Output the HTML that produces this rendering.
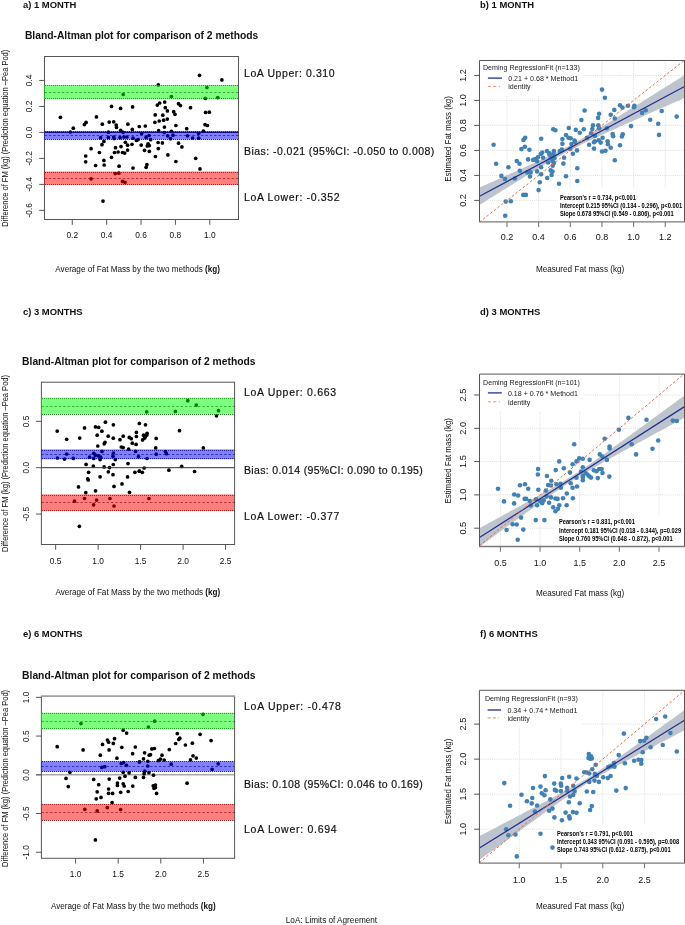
<!DOCTYPE html>
<html><head><meta charset="utf-8"><style>
html,body{margin:0;padding:0;background:#fff;overflow:hidden;}
svg{display:block;font-family:"Liberation Sans", sans-serif;will-change:transform;}
</style></head><body>
<svg width="685" height="925" viewBox="0 0 685 925">
<rect width="685" height="925" fill="#fff"/>
<text x="22.90" y="8.20" font-size="9.45" text-anchor="start" fill="#111" font-weight="bold">a) 1 MONTH</text>
<text x="24.90" y="39.20" font-size="10.3" text-anchor="start" fill="#111" font-weight="bold">Bland-Altman plot for comparison of 2 methods</text>
<circle cx="123.20" cy="94.40" r="1.85" fill="#000"/>
<circle cx="111.50" cy="106.40" r="1.85" fill="#000"/>
<circle cx="120.60" cy="108.40" r="1.85" fill="#000"/>
<circle cx="132.60" cy="106.90" r="1.85" fill="#000"/>
<circle cx="60.40" cy="117.30" r="1.85" fill="#000"/>
<circle cx="96.40" cy="116.90" r="1.85" fill="#000"/>
<circle cx="86.10" cy="122.40" r="1.85" fill="#000"/>
<circle cx="84.40" cy="124.60" r="1.85" fill="#000"/>
<circle cx="73.30" cy="128.20" r="1.85" fill="#000"/>
<circle cx="102.30" cy="124.20" r="1.85" fill="#000"/>
<circle cx="109.20" cy="122.10" r="1.85" fill="#000"/>
<circle cx="113.70" cy="121.80" r="1.85" fill="#000"/>
<circle cx="116.20" cy="125.00" r="1.85" fill="#000"/>
<circle cx="116.50" cy="127.40" r="1.85" fill="#000"/>
<circle cx="127.90" cy="124.20" r="1.85" fill="#000"/>
<circle cx="132.30" cy="129.40" r="1.85" fill="#000"/>
<circle cx="139.30" cy="126.50" r="1.85" fill="#000"/>
<circle cx="70.40" cy="132.00" r="1.85" fill="#000"/>
<circle cx="108.40" cy="132.20" r="1.85" fill="#000"/>
<circle cx="120.70" cy="130.30" r="1.85" fill="#000"/>
<circle cx="123.20" cy="132.30" r="1.85" fill="#000"/>
<circle cx="100.60" cy="137.70" r="1.85" fill="#000"/>
<circle cx="108.30" cy="137.40" r="1.85" fill="#000"/>
<circle cx="113.70" cy="137.00" r="1.85" fill="#000"/>
<circle cx="114.20" cy="138.60" r="1.85" fill="#000"/>
<circle cx="120.00" cy="137.70" r="1.85" fill="#000"/>
<circle cx="123.90" cy="137.00" r="1.85" fill="#000"/>
<circle cx="126.90" cy="137.00" r="1.85" fill="#000"/>
<circle cx="133.00" cy="138.20" r="1.85" fill="#000"/>
<circle cx="136.40" cy="140.40" r="1.85" fill="#000"/>
<circle cx="138.10" cy="139.60" r="1.85" fill="#000"/>
<circle cx="103.90" cy="141.40" r="1.85" fill="#000"/>
<circle cx="102.00" cy="144.70" r="1.85" fill="#000"/>
<circle cx="125.40" cy="142.30" r="1.85" fill="#000"/>
<circle cx="127.60" cy="145.20" r="1.85" fill="#000"/>
<circle cx="132.00" cy="144.30" r="1.85" fill="#000"/>
<circle cx="91.10" cy="148.70" r="1.85" fill="#000"/>
<circle cx="99.40" cy="152.50" r="1.85" fill="#000"/>
<circle cx="115.50" cy="147.70" r="1.85" fill="#000"/>
<circle cx="121.00" cy="146.60" r="1.85" fill="#000"/>
<circle cx="114.50" cy="152.50" r="1.85" fill="#000"/>
<circle cx="118.10" cy="152.00" r="1.85" fill="#000"/>
<circle cx="122.50" cy="152.50" r="1.85" fill="#000"/>
<circle cx="124.70" cy="153.10" r="1.85" fill="#000"/>
<circle cx="127.60" cy="150.10" r="1.85" fill="#000"/>
<circle cx="85.70" cy="156.00" r="1.85" fill="#000"/>
<circle cx="85.70" cy="161.80" r="1.85" fill="#000"/>
<circle cx="103.90" cy="160.40" r="1.85" fill="#000"/>
<circle cx="111.50" cy="157.30" r="1.85" fill="#000"/>
<circle cx="95.60" cy="165.50" r="1.85" fill="#000"/>
<circle cx="104.20" cy="165.00" r="1.85" fill="#000"/>
<circle cx="119.10" cy="166.20" r="1.85" fill="#000"/>
<circle cx="133.00" cy="168.00" r="1.85" fill="#000"/>
<circle cx="115.20" cy="173.60" r="1.85" fill="#000"/>
<circle cx="118.80" cy="173.20" r="1.85" fill="#000"/>
<circle cx="91.10" cy="178.80" r="1.85" fill="#000"/>
<circle cx="122.50" cy="181.40" r="1.85" fill="#000"/>
<circle cx="125.00" cy="182.30" r="1.85" fill="#000"/>
<circle cx="103.00" cy="201.10" r="1.85" fill="#000"/>
<circle cx="199.50" cy="75.30" r="1.85" fill="#000"/>
<circle cx="221.90" cy="79.90" r="1.85" fill="#000"/>
<circle cx="158.30" cy="84.90" r="1.85" fill="#000"/>
<circle cx="206.90" cy="87.50" r="1.85" fill="#000"/>
<circle cx="171.40" cy="96.60" r="1.85" fill="#000"/>
<circle cx="205.30" cy="98.40" r="1.85" fill="#000"/>
<circle cx="217.70" cy="97.60" r="1.85" fill="#000"/>
<circle cx="164.70" cy="102.10" r="1.85" fill="#000"/>
<circle cx="159.70" cy="103.00" r="1.85" fill="#000"/>
<circle cx="157.30" cy="105.10" r="1.85" fill="#000"/>
<circle cx="165.30" cy="107.70" r="1.85" fill="#000"/>
<circle cx="167.40" cy="110.90" r="1.85" fill="#000"/>
<circle cx="178.50" cy="103.70" r="1.85" fill="#000"/>
<circle cx="180.40" cy="105.60" r="1.85" fill="#000"/>
<circle cx="190.50" cy="107.70" r="1.85" fill="#000"/>
<circle cx="173.70" cy="111.70" r="1.85" fill="#000"/>
<circle cx="175.00" cy="114.30" r="1.85" fill="#000"/>
<circle cx="155.20" cy="114.90" r="1.85" fill="#000"/>
<circle cx="162.80" cy="115.20" r="1.85" fill="#000"/>
<circle cx="205.60" cy="112.40" r="1.85" fill="#000"/>
<circle cx="209.30" cy="112.20" r="1.85" fill="#000"/>
<circle cx="154.90" cy="122.30" r="1.85" fill="#000"/>
<circle cx="159.20" cy="121.00" r="1.85" fill="#000"/>
<circle cx="163.60" cy="120.20" r="1.85" fill="#000"/>
<circle cx="167.30" cy="119.10" r="1.85" fill="#000"/>
<circle cx="145.30" cy="126.00" r="1.85" fill="#000"/>
<circle cx="164.40" cy="127.10" r="1.85" fill="#000"/>
<circle cx="175.90" cy="125.50" r="1.85" fill="#000"/>
<circle cx="205.00" cy="124.70" r="1.85" fill="#000"/>
<circle cx="207.40" cy="125.50" r="1.85" fill="#000"/>
<circle cx="186.70" cy="128.70" r="1.85" fill="#000"/>
<circle cx="158.60" cy="130.70" r="1.85" fill="#000"/>
<circle cx="164.20" cy="132.60" r="1.85" fill="#000"/>
<circle cx="171.40" cy="131.30" r="1.85" fill="#000"/>
<circle cx="203.40" cy="131.00" r="1.85" fill="#000"/>
<circle cx="141.60" cy="133.60" r="1.85" fill="#000"/>
<circle cx="149.00" cy="135.50" r="1.85" fill="#000"/>
<circle cx="146.10" cy="137.40" r="1.85" fill="#000"/>
<circle cx="150.60" cy="139.70" r="1.85" fill="#000"/>
<circle cx="167.70" cy="135.80" r="1.85" fill="#000"/>
<circle cx="173.00" cy="135.20" r="1.85" fill="#000"/>
<circle cx="170.50" cy="138.70" r="1.85" fill="#000"/>
<circle cx="187.50" cy="135.80" r="1.85" fill="#000"/>
<circle cx="192.60" cy="138.00" r="1.85" fill="#000"/>
<circle cx="198.70" cy="133.60" r="1.85" fill="#000"/>
<circle cx="198.70" cy="138.20" r="1.85" fill="#000"/>
<circle cx="158.10" cy="142.50" r="1.85" fill="#000"/>
<circle cx="162.40" cy="142.90" r="1.85" fill="#000"/>
<circle cx="178.50" cy="143.20" r="1.85" fill="#000"/>
<circle cx="181.90" cy="146.90" r="1.85" fill="#000"/>
<circle cx="141.20" cy="145.10" r="1.85" fill="#000"/>
<circle cx="148.10" cy="143.80" r="1.85" fill="#000"/>
<circle cx="149.30" cy="145.60" r="1.85" fill="#000"/>
<circle cx="147.30" cy="145.90" r="1.85" fill="#000"/>
<circle cx="144.50" cy="150.30" r="1.85" fill="#000"/>
<circle cx="149.30" cy="151.40" r="1.85" fill="#000"/>
<circle cx="158.30" cy="148.60" r="1.85" fill="#000"/>
<circle cx="155.40" cy="156.50" r="1.85" fill="#000"/>
<circle cx="167.90" cy="154.90" r="1.85" fill="#000"/>
<circle cx="175.90" cy="161.50" r="1.85" fill="#000"/>
<circle cx="195.70" cy="158.30" r="1.85" fill="#000"/>
<circle cx="146.90" cy="164.70" r="1.85" fill="#000"/>
<circle cx="146.10" cy="167.30" r="1.85" fill="#000"/>
<circle cx="200.00" cy="168.90" r="1.85" fill="#000"/>
<rect x="44.50" y="56.50" width="194.00" height="163.00" fill="none" stroke="#555" stroke-width="1"/>
<line x1="44.50" y1="92.50" x2="238.50" y2="92.50" stroke="#000" stroke-width="1" stroke-dasharray="2.4,1.95" stroke-opacity="0.6"/>
<line x1="45.00" y1="85.50" x2="238.50" y2="85.50" stroke="#000" stroke-width="1" stroke-dasharray="1,1" stroke-opacity="0.75"/>
<line x1="45.00" y1="98.50" x2="238.50" y2="98.50" stroke="#000" stroke-width="1" stroke-dasharray="1,1" stroke-opacity="0.75"/>
<line x1="44.50" y1="135.50" x2="238.50" y2="135.50" stroke="#000" stroke-width="1" stroke-dasharray="2.4,1.95" stroke-opacity="0.6"/>
<line x1="45.00" y1="131.50" x2="238.50" y2="131.50" stroke="#000" stroke-width="1" stroke-dasharray="1,1" stroke-opacity="0.75"/>
<line x1="45.00" y1="139.50" x2="238.50" y2="139.50" stroke="#000" stroke-width="1" stroke-dasharray="1,1" stroke-opacity="0.75"/>
<line x1="44.50" y1="178.50" x2="238.50" y2="178.50" stroke="#000" stroke-width="1" stroke-dasharray="2.4,1.95" stroke-opacity="0.6"/>
<line x1="45.00" y1="172.50" x2="238.50" y2="172.50" stroke="#000" stroke-width="1" stroke-dasharray="1,1" stroke-opacity="0.75"/>
<line x1="45.00" y1="184.50" x2="238.50" y2="184.50" stroke="#000" stroke-width="1" stroke-dasharray="1,1" stroke-opacity="0.75"/>
<line x1="44.50" y1="132.40" x2="238.50" y2="132.40" stroke="#000" stroke-width="1"/>
<rect x="44.00" y="84.90" width="194.00" height="14.20" fill="#00ff00" fill-opacity="0.5"/>
<rect x="44.00" y="131.00" width="194.00" height="8.60" fill="#0000ff" fill-opacity="0.5"/>
<rect x="44.00" y="171.50" width="194.00" height="13.50" fill="#ff0000" fill-opacity="0.5"/>
<line x1="39.20" y1="80.44" x2="44.50" y2="80.44" stroke="#555" stroke-width="1"/>
<text x="32.30" y="80.44" font-size="8.4" text-anchor="middle" fill="#111" transform="rotate(-90 32.30 80.44)">0.4</text>
<line x1="39.20" y1="106.42" x2="44.50" y2="106.42" stroke="#555" stroke-width="1"/>
<text x="32.30" y="106.42" font-size="8.4" text-anchor="middle" fill="#111" transform="rotate(-90 32.30 106.42)">0.2</text>
<line x1="39.20" y1="132.40" x2="44.50" y2="132.40" stroke="#555" stroke-width="1"/>
<text x="32.30" y="132.40" font-size="8.4" text-anchor="middle" fill="#111" transform="rotate(-90 32.30 132.40)">0.0</text>
<line x1="39.20" y1="158.38" x2="44.50" y2="158.38" stroke="#555" stroke-width="1"/>
<text x="32.30" y="158.38" font-size="8.4" text-anchor="middle" fill="#111" transform="rotate(-90 32.30 158.38)">-0.2</text>
<line x1="39.20" y1="184.36" x2="44.50" y2="184.36" stroke="#555" stroke-width="1"/>
<text x="32.30" y="184.36" font-size="8.4" text-anchor="middle" fill="#111" transform="rotate(-90 32.30 184.36)">-0.4</text>
<line x1="39.20" y1="210.34" x2="44.50" y2="210.34" stroke="#555" stroke-width="1"/>
<text x="32.30" y="210.34" font-size="8.4" text-anchor="middle" fill="#111" transform="rotate(-90 32.30 210.34)">-0.6</text>
<line x1="72.28" y1="219.50" x2="72.28" y2="224.80" stroke="#555" stroke-width="1"/>
<text x="72.28" y="238.30" font-size="8.4" text-anchor="middle" fill="#111">0.2</text>
<line x1="106.66" y1="219.50" x2="106.66" y2="224.80" stroke="#555" stroke-width="1"/>
<text x="106.66" y="238.30" font-size="8.4" text-anchor="middle" fill="#111">0.4</text>
<line x1="141.04" y1="219.50" x2="141.04" y2="224.80" stroke="#555" stroke-width="1"/>
<text x="141.04" y="238.30" font-size="8.4" text-anchor="middle" fill="#111">0.6</text>
<line x1="175.42" y1="219.50" x2="175.42" y2="224.80" stroke="#555" stroke-width="1"/>
<text x="175.42" y="238.30" font-size="8.4" text-anchor="middle" fill="#111">0.8</text>
<line x1="209.80" y1="219.50" x2="209.80" y2="224.80" stroke="#555" stroke-width="1"/>
<text x="209.80" y="238.30" font-size="8.4" text-anchor="middle" fill="#111">1.0</text>
<text x="55.30" y="272.00" font-size="8.15" fill="#111">Average of Fat Mass by the two methods <tspan font-weight="bold">(kg)</tspan></text>
<text x="8.00" y="138.20" font-size="8.2" text-anchor="middle" fill="#111" transform="rotate(-90 8.00 138.20)" textLength="177" lengthAdjust="spacingAndGlyphs">Difference of FM (kg) (Prediction equation –Pea Pod)</text>
<text x="244.00" y="76.90" font-size="10.5" text-anchor="start" fill="#111" textLength="90.6" lengthAdjust="spacing" stroke="#111" stroke-width="0.18">LoA Upper: 0.310</text>
<text x="244.00" y="155.20" font-size="10.5" text-anchor="start" fill="#111" textLength="190.3" lengthAdjust="spacing" stroke="#111" stroke-width="0.18">Bias: -0.021 (95%CI: -0.050 to 0.008)</text>
<text x="244.00" y="200.50" font-size="10.5" text-anchor="start" fill="#111" textLength="95.6" lengthAdjust="spacing" stroke="#111" stroke-width="0.18">LoA Lower: -0.352</text>
<text x="22.90" y="314.90" font-size="9.45" text-anchor="start" fill="#111" font-weight="bold">c) 3 MONTHS</text>
<text x="22.10" y="365.00" font-size="10.3" text-anchor="start" fill="#111" font-weight="bold">Bland-Altman plot for comparison of 2 methods</text>
<circle cx="57.20" cy="431.10" r="1.85" fill="#000"/>
<circle cx="66.70" cy="439.30" r="1.85" fill="#000"/>
<circle cx="79.70" cy="438.10" r="1.85" fill="#000"/>
<circle cx="84.50" cy="427.90" r="1.85" fill="#000"/>
<circle cx="95.50" cy="426.90" r="1.85" fill="#000"/>
<circle cx="98.70" cy="427.40" r="1.85" fill="#000"/>
<circle cx="105.40" cy="422.20" r="1.85" fill="#000"/>
<circle cx="113.40" cy="424.80" r="1.85" fill="#000"/>
<circle cx="101.90" cy="431.20" r="1.85" fill="#000"/>
<circle cx="97.20" cy="435.20" r="1.85" fill="#000"/>
<circle cx="108.20" cy="436.20" r="1.85" fill="#000"/>
<circle cx="113.30" cy="438.20" r="1.85" fill="#000"/>
<circle cx="104.20" cy="443.80" r="1.85" fill="#000"/>
<circle cx="105.00" cy="442.30" r="1.85" fill="#000"/>
<circle cx="97.80" cy="446.00" r="1.85" fill="#000"/>
<circle cx="120.00" cy="439.70" r="1.85" fill="#000"/>
<circle cx="123.20" cy="436.20" r="1.85" fill="#000"/>
<circle cx="129.30" cy="437.40" r="1.85" fill="#000"/>
<circle cx="131.20" cy="438.70" r="1.85" fill="#000"/>
<circle cx="136.40" cy="432.40" r="1.85" fill="#000"/>
<circle cx="136.40" cy="436.50" r="1.85" fill="#000"/>
<circle cx="132.30" cy="443.20" r="1.85" fill="#000"/>
<circle cx="136.10" cy="444.40" r="1.85" fill="#000"/>
<circle cx="139.30" cy="423.40" r="1.85" fill="#000"/>
<circle cx="121.30" cy="447.00" r="1.85" fill="#000"/>
<circle cx="123.20" cy="447.60" r="1.85" fill="#000"/>
<circle cx="128.60" cy="449.20" r="1.85" fill="#000"/>
<circle cx="57.50" cy="458.00" r="1.85" fill="#000"/>
<circle cx="66.70" cy="454.00" r="1.85" fill="#000"/>
<circle cx="64.50" cy="459.10" r="1.85" fill="#000"/>
<circle cx="73.30" cy="458.40" r="1.85" fill="#000"/>
<circle cx="89.60" cy="457.20" r="1.85" fill="#000"/>
<circle cx="93.70" cy="453.30" r="1.85" fill="#000"/>
<circle cx="95.50" cy="455.20" r="1.85" fill="#000"/>
<circle cx="93.70" cy="458.40" r="1.85" fill="#000"/>
<circle cx="98.40" cy="455.80" r="1.85" fill="#000"/>
<circle cx="100.60" cy="457.20" r="1.85" fill="#000"/>
<circle cx="100.10" cy="459.60" r="1.85" fill="#000"/>
<circle cx="102.00" cy="451.40" r="1.85" fill="#000"/>
<circle cx="113.40" cy="453.00" r="1.85" fill="#000"/>
<circle cx="113.00" cy="456.20" r="1.85" fill="#000"/>
<circle cx="115.30" cy="459.60" r="1.85" fill="#000"/>
<circle cx="135.60" cy="451.40" r="1.85" fill="#000"/>
<circle cx="138.50" cy="456.60" r="1.85" fill="#000"/>
<circle cx="86.10" cy="464.40" r="1.85" fill="#000"/>
<circle cx="93.30" cy="466.10" r="1.85" fill="#000"/>
<circle cx="104.10" cy="466.90" r="1.85" fill="#000"/>
<circle cx="109.50" cy="467.60" r="1.85" fill="#000"/>
<circle cx="113.30" cy="464.50" r="1.85" fill="#000"/>
<circle cx="128.00" cy="463.60" r="1.85" fill="#000"/>
<circle cx="88.60" cy="472.30" r="1.85" fill="#000"/>
<circle cx="87.70" cy="478.80" r="1.85" fill="#000"/>
<circle cx="88.20" cy="480.00" r="1.85" fill="#000"/>
<circle cx="100.10" cy="476.80" r="1.85" fill="#000"/>
<circle cx="108.30" cy="471.80" r="1.85" fill="#000"/>
<circle cx="113.00" cy="474.70" r="1.85" fill="#000"/>
<circle cx="127.60" cy="476.90" r="1.85" fill="#000"/>
<circle cx="134.90" cy="472.30" r="1.85" fill="#000"/>
<circle cx="139.30" cy="471.20" r="1.85" fill="#000"/>
<circle cx="78.50" cy="486.90" r="1.85" fill="#000"/>
<circle cx="85.80" cy="492.70" r="1.85" fill="#000"/>
<circle cx="95.60" cy="490.80" r="1.85" fill="#000"/>
<circle cx="114.00" cy="486.40" r="1.85" fill="#000"/>
<circle cx="122.00" cy="483.90" r="1.85" fill="#000"/>
<circle cx="129.50" cy="492.30" r="1.85" fill="#000"/>
<circle cx="74.50" cy="501.20" r="1.85" fill="#000"/>
<circle cx="84.50" cy="498.50" r="1.85" fill="#000"/>
<circle cx="93.60" cy="504.80" r="1.85" fill="#000"/>
<circle cx="96.60" cy="500.10" r="1.85" fill="#000"/>
<circle cx="109.90" cy="498.50" r="1.85" fill="#000"/>
<circle cx="114.00" cy="506.00" r="1.85" fill="#000"/>
<circle cx="79.40" cy="526.30" r="1.85" fill="#000"/>
<circle cx="146.70" cy="411.80" r="1.85" fill="#000"/>
<circle cx="175.40" cy="411.40" r="1.85" fill="#000"/>
<circle cx="187.80" cy="400.70" r="1.85" fill="#000"/>
<circle cx="196.30" cy="405.10" r="1.85" fill="#000"/>
<circle cx="218.50" cy="410.70" r="1.85" fill="#000"/>
<circle cx="216.50" cy="415.80" r="1.85" fill="#000"/>
<circle cx="145.50" cy="424.80" r="1.85" fill="#000"/>
<circle cx="179.50" cy="430.70" r="1.85" fill="#000"/>
<circle cx="143.50" cy="435.20" r="1.85" fill="#000"/>
<circle cx="145.20" cy="436.90" r="1.85" fill="#000"/>
<circle cx="147.10" cy="433.30" r="1.85" fill="#000"/>
<circle cx="146.70" cy="435.20" r="1.85" fill="#000"/>
<circle cx="142.60" cy="439.90" r="1.85" fill="#000"/>
<circle cx="144.60" cy="438.10" r="1.85" fill="#000"/>
<circle cx="156.20" cy="438.40" r="1.85" fill="#000"/>
<circle cx="155.70" cy="447.90" r="1.85" fill="#000"/>
<circle cx="203.30" cy="447.90" r="1.85" fill="#000"/>
<circle cx="147.00" cy="458.50" r="1.85" fill="#000"/>
<circle cx="156.20" cy="454.20" r="1.85" fill="#000"/>
<circle cx="165.40" cy="451.50" r="1.85" fill="#000"/>
<circle cx="166.40" cy="453.70" r="1.85" fill="#000"/>
<circle cx="144.10" cy="468.00" r="1.85" fill="#000"/>
<circle cx="139.40" cy="471.20" r="1.85" fill="#000"/>
<circle cx="142.30" cy="472.30" r="1.85" fill="#000"/>
<circle cx="168.90" cy="470.20" r="1.85" fill="#000"/>
<circle cx="181.70" cy="466.40" r="1.85" fill="#000"/>
<circle cx="194.60" cy="471.50" r="1.85" fill="#000"/>
<circle cx="148.90" cy="498.50" r="1.85" fill="#000"/>
<rect x="41.40" y="382.20" width="193.20" height="162.30" fill="none" stroke="#555" stroke-width="1"/>
<line x1="41.40" y1="406.50" x2="234.60" y2="406.50" stroke="#000" stroke-width="1" stroke-dasharray="2.4,1.95" stroke-opacity="0.6"/>
<line x1="42.00" y1="398.50" x2="234.60" y2="398.50" stroke="#000" stroke-width="1" stroke-dasharray="1,1" stroke-opacity="0.75"/>
<line x1="42.00" y1="414.50" x2="234.60" y2="414.50" stroke="#000" stroke-width="1" stroke-dasharray="1,1" stroke-opacity="0.75"/>
<line x1="41.40" y1="454.50" x2="234.60" y2="454.50" stroke="#000" stroke-width="1" stroke-dasharray="2.4,1.95" stroke-opacity="0.6"/>
<line x1="42.00" y1="450.50" x2="234.60" y2="450.50" stroke="#000" stroke-width="1" stroke-dasharray="1,1" stroke-opacity="0.75"/>
<line x1="42.00" y1="458.50" x2="234.60" y2="458.50" stroke="#000" stroke-width="1" stroke-dasharray="1,1" stroke-opacity="0.75"/>
<line x1="41.40" y1="502.50" x2="234.60" y2="502.50" stroke="#000" stroke-width="1" stroke-dasharray="2.4,1.95" stroke-opacity="0.6"/>
<line x1="42.00" y1="495.50" x2="234.60" y2="495.50" stroke="#000" stroke-width="1" stroke-dasharray="1,1" stroke-opacity="0.75"/>
<line x1="42.00" y1="510.50" x2="234.60" y2="510.50" stroke="#000" stroke-width="1" stroke-dasharray="1,1" stroke-opacity="0.75"/>
<line x1="41.40" y1="467.70" x2="234.60" y2="467.70" stroke="#333" stroke-width="1"/>
<rect x="40.90" y="397.70" width="193.20" height="16.90" fill="#00ff00" fill-opacity="0.5"/>
<rect x="40.90" y="449.40" width="193.20" height="9.90" fill="#0000ff" fill-opacity="0.5"/>
<rect x="40.90" y="494.40" width="193.20" height="16.70" fill="#ff0000" fill-opacity="0.5"/>
<line x1="36.10" y1="421.35" x2="41.40" y2="421.35" stroke="#555" stroke-width="1"/>
<text x="29.30" y="421.35" font-size="8.4" text-anchor="middle" fill="#111" transform="rotate(-90 29.30 421.35)">0.5</text>
<line x1="36.10" y1="467.70" x2="41.40" y2="467.70" stroke="#555" stroke-width="1"/>
<text x="29.30" y="467.70" font-size="8.4" text-anchor="middle" fill="#111" transform="rotate(-90 29.30 467.70)">0.0</text>
<line x1="36.10" y1="514.05" x2="41.40" y2="514.05" stroke="#555" stroke-width="1"/>
<text x="29.30" y="514.05" font-size="8.4" text-anchor="middle" fill="#111" transform="rotate(-90 29.30 514.05)">-0.5</text>
<line x1="55.67" y1="544.50" x2="55.67" y2="549.80" stroke="#555" stroke-width="1"/>
<text x="55.67" y="564.00" font-size="8.4" text-anchor="middle" fill="#111">0.5</text>
<line x1="98.15" y1="544.50" x2="98.15" y2="549.80" stroke="#555" stroke-width="1"/>
<text x="98.15" y="564.00" font-size="8.4" text-anchor="middle" fill="#111">1.0</text>
<line x1="140.62" y1="544.50" x2="140.62" y2="549.80" stroke="#555" stroke-width="1"/>
<text x="140.62" y="564.00" font-size="8.4" text-anchor="middle" fill="#111">1.5</text>
<line x1="183.10" y1="544.50" x2="183.10" y2="549.80" stroke="#555" stroke-width="1"/>
<text x="183.10" y="564.00" font-size="8.4" text-anchor="middle" fill="#111">2.0</text>
<line x1="225.57" y1="544.50" x2="225.57" y2="549.80" stroke="#555" stroke-width="1"/>
<text x="225.57" y="564.00" font-size="8.4" text-anchor="middle" fill="#111">2.5</text>
<text x="55.50" y="595.20" font-size="8.15" fill="#111">Average of Fat Mass by the two methods <tspan font-weight="bold">(kg)</tspan></text>
<text x="8.00" y="463.50" font-size="8.2" text-anchor="middle" fill="#111" transform="rotate(-90 8.00 463.50)" textLength="177" lengthAdjust="spacingAndGlyphs">Difference of FM (kg) (Prediction equation –Pea Pod)</text>
<text x="244.00" y="396.30" font-size="10.5" text-anchor="start" fill="#111" textLength="92.1" lengthAdjust="spacing" stroke="#111" stroke-width="0.18">LoA Upper: 0.663</text>
<text x="244.00" y="474.40" font-size="10.5" text-anchor="start" fill="#111" textLength="178.8" lengthAdjust="spacing" stroke="#111" stroke-width="0.18">Bias: 0.014 (95%CI: 0.090 to 0.195)</text>
<text x="244.00" y="520.00" font-size="10.5" text-anchor="start" fill="#111" textLength="95.3" lengthAdjust="spacing" stroke="#111" stroke-width="0.18">LoA Lower: -0.377</text>
<text x="22.90" y="637.00" font-size="9.45" text-anchor="start" fill="#111" font-weight="bold">e) 6 MONTHS</text>
<text x="22.10" y="678.90" font-size="10.3" text-anchor="start" fill="#111" font-weight="bold">Bland-Altman plot for comparison of 2 methods</text>
<line x1="36.00" y1="774.80" x2="234.60" y2="774.80" stroke="#aaa" stroke-width="1.4"/>
<circle cx="81.00" cy="723.60" r="1.85" fill="#000"/>
<circle cx="123.20" cy="730.20" r="1.85" fill="#000"/>
<circle cx="126.60" cy="733.10" r="1.85" fill="#000"/>
<circle cx="107.40" cy="740.10" r="1.85" fill="#000"/>
<circle cx="108.60" cy="742.20" r="1.85" fill="#000"/>
<circle cx="114.50" cy="738.70" r="1.85" fill="#000"/>
<circle cx="113.30" cy="743.40" r="1.85" fill="#000"/>
<circle cx="102.50" cy="744.40" r="1.85" fill="#000"/>
<circle cx="57.20" cy="746.70" r="1.85" fill="#000"/>
<circle cx="83.10" cy="749.90" r="1.85" fill="#000"/>
<circle cx="109.10" cy="749.90" r="1.85" fill="#000"/>
<circle cx="121.80" cy="747.30" r="1.85" fill="#000"/>
<circle cx="135.30" cy="747.00" r="1.85" fill="#000"/>
<circle cx="100.30" cy="755.20" r="1.85" fill="#000"/>
<circle cx="132.60" cy="753.70" r="1.85" fill="#000"/>
<circle cx="116.90" cy="758.20" r="1.85" fill="#000"/>
<circle cx="121.30" cy="763.50" r="1.85" fill="#000"/>
<circle cx="123.50" cy="762.60" r="1.85" fill="#000"/>
<circle cx="126.40" cy="765.30" r="1.85" fill="#000"/>
<circle cx="101.80" cy="767.40" r="1.85" fill="#000"/>
<circle cx="104.70" cy="766.70" r="1.85" fill="#000"/>
<circle cx="139.30" cy="762.00" r="1.85" fill="#000"/>
<circle cx="69.90" cy="772.30" r="1.85" fill="#000"/>
<circle cx="123.20" cy="772.30" r="1.85" fill="#000"/>
<circle cx="129.10" cy="772.80" r="1.85" fill="#000"/>
<circle cx="125.00" cy="776.20" r="1.85" fill="#000"/>
<circle cx="66.00" cy="778.40" r="1.85" fill="#000"/>
<circle cx="93.70" cy="779.40" r="1.85" fill="#000"/>
<circle cx="109.20" cy="779.10" r="1.85" fill="#000"/>
<circle cx="119.70" cy="778.10" r="1.85" fill="#000"/>
<circle cx="135.30" cy="777.40" r="1.85" fill="#000"/>
<circle cx="98.70" cy="784.70" r="1.85" fill="#000"/>
<circle cx="117.40" cy="783.10" r="1.85" fill="#000"/>
<circle cx="117.40" cy="785.40" r="1.85" fill="#000"/>
<circle cx="123.20" cy="783.80" r="1.85" fill="#000"/>
<circle cx="124.20" cy="786.00" r="1.85" fill="#000"/>
<circle cx="132.80" cy="786.10" r="1.85" fill="#000"/>
<circle cx="68.30" cy="786.60" r="1.85" fill="#000"/>
<circle cx="108.60" cy="789.00" r="1.85" fill="#000"/>
<circle cx="97.20" cy="791.80" r="1.85" fill="#000"/>
<circle cx="108.60" cy="793.30" r="1.85" fill="#000"/>
<circle cx="112.60" cy="793.40" r="1.85" fill="#000"/>
<circle cx="120.70" cy="792.30" r="1.85" fill="#000"/>
<circle cx="128.20" cy="791.50" r="1.85" fill="#000"/>
<circle cx="96.20" cy="798.80" r="1.85" fill="#000"/>
<circle cx="101.00" cy="797.40" r="1.85" fill="#000"/>
<circle cx="112.10" cy="802.50" r="1.85" fill="#000"/>
<circle cx="84.80" cy="809.30" r="1.85" fill="#000"/>
<circle cx="97.20" cy="810.90" r="1.85" fill="#000"/>
<circle cx="107.30" cy="807.60" r="1.85" fill="#000"/>
<circle cx="120.60" cy="809.50" r="1.85" fill="#000"/>
<circle cx="95.40" cy="839.90" r="1.85" fill="#000"/>
<circle cx="203.00" cy="714.30" r="1.85" fill="#000"/>
<circle cx="154.70" cy="721.20" r="1.85" fill="#000"/>
<circle cx="148.40" cy="727.00" r="1.85" fill="#000"/>
<circle cx="177.30" cy="733.60" r="1.85" fill="#000"/>
<circle cx="200.10" cy="734.30" r="1.85" fill="#000"/>
<circle cx="178.80" cy="739.40" r="1.85" fill="#000"/>
<circle cx="179.80" cy="738.20" r="1.85" fill="#000"/>
<circle cx="175.60" cy="743.50" r="1.85" fill="#000"/>
<circle cx="185.40" cy="745.00" r="1.85" fill="#000"/>
<circle cx="192.40" cy="743.20" r="1.85" fill="#000"/>
<circle cx="211.10" cy="740.60" r="1.85" fill="#000"/>
<circle cx="151.80" cy="748.90" r="1.85" fill="#000"/>
<circle cx="154.40" cy="748.50" r="1.85" fill="#000"/>
<circle cx="169.30" cy="749.60" r="1.85" fill="#000"/>
<circle cx="144.60" cy="752.80" r="1.85" fill="#000"/>
<circle cx="149.20" cy="755.20" r="1.85" fill="#000"/>
<circle cx="150.50" cy="754.70" r="1.85" fill="#000"/>
<circle cx="162.00" cy="755.20" r="1.85" fill="#000"/>
<circle cx="143.50" cy="758.80" r="1.85" fill="#000"/>
<circle cx="139.70" cy="761.80" r="1.85" fill="#000"/>
<circle cx="147.80" cy="761.30" r="1.85" fill="#000"/>
<circle cx="158.40" cy="760.60" r="1.85" fill="#000"/>
<circle cx="160.50" cy="759.10" r="1.85" fill="#000"/>
<circle cx="164.20" cy="760.10" r="1.85" fill="#000"/>
<circle cx="193.00" cy="755.80" r="1.85" fill="#000"/>
<circle cx="196.30" cy="758.10" r="1.85" fill="#000"/>
<circle cx="190.50" cy="759.90" r="1.85" fill="#000"/>
<circle cx="147.80" cy="766.00" r="1.85" fill="#000"/>
<circle cx="171.20" cy="764.20" r="1.85" fill="#000"/>
<circle cx="218.20" cy="763.80" r="1.85" fill="#000"/>
<circle cx="212.10" cy="769.30" r="1.85" fill="#000"/>
<circle cx="144.80" cy="771.20" r="1.85" fill="#000"/>
<circle cx="144.10" cy="773.70" r="1.85" fill="#000"/>
<circle cx="148.90" cy="772.70" r="1.85" fill="#000"/>
<circle cx="143.50" cy="777.40" r="1.85" fill="#000"/>
<circle cx="153.50" cy="775.20" r="1.85" fill="#000"/>
<circle cx="187.10" cy="783.20" r="1.85" fill="#000"/>
<circle cx="153.20" cy="785.80" r="1.85" fill="#000"/>
<circle cx="155.40" cy="785.00" r="1.85" fill="#000"/>
<circle cx="154.00" cy="788.30" r="1.85" fill="#000"/>
<circle cx="155.40" cy="787.60" r="1.85" fill="#000"/>
<circle cx="156.60" cy="793.40" r="1.85" fill="#000"/>
<rect x="41.40" y="696.20" width="193.20" height="162.10" fill="none" stroke="#555" stroke-width="1"/>
<line x1="41.40" y1="721.50" x2="234.60" y2="721.50" stroke="#000" stroke-width="1" stroke-dasharray="2.4,1.95" stroke-opacity="0.6"/>
<line x1="42.00" y1="713.50" x2="234.60" y2="713.50" stroke="#000" stroke-width="1" stroke-dasharray="1,1" stroke-opacity="0.75"/>
<line x1="42.00" y1="728.50" x2="234.60" y2="728.50" stroke="#000" stroke-width="1" stroke-dasharray="1,1" stroke-opacity="0.75"/>
<line x1="41.40" y1="766.50" x2="234.60" y2="766.50" stroke="#000" stroke-width="1" stroke-dasharray="2.4,1.95" stroke-opacity="0.6"/>
<line x1="42.00" y1="761.50" x2="234.60" y2="761.50" stroke="#000" stroke-width="1" stroke-dasharray="1,1" stroke-opacity="0.75"/>
<line x1="42.00" y1="771.50" x2="234.60" y2="771.50" stroke="#000" stroke-width="1" stroke-dasharray="1,1" stroke-opacity="0.75"/>
<line x1="41.40" y1="812.50" x2="234.60" y2="812.50" stroke="#000" stroke-width="1" stroke-dasharray="2.4,1.95" stroke-opacity="0.6"/>
<line x1="42.00" y1="804.50" x2="234.60" y2="804.50" stroke="#000" stroke-width="1" stroke-dasharray="1,1" stroke-opacity="0.75"/>
<line x1="42.00" y1="820.50" x2="234.60" y2="820.50" stroke="#000" stroke-width="1" stroke-dasharray="1,1" stroke-opacity="0.75"/>
<rect x="40.90" y="712.70" width="193.20" height="16.80" fill="#00ff00" fill-opacity="0.5"/>
<rect x="40.90" y="761.20" width="193.20" height="10.40" fill="#0000ff" fill-opacity="0.5"/>
<rect x="40.90" y="804.00" width="193.20" height="16.60" fill="#ff0000" fill-opacity="0.5"/>
<line x1="40.90" y1="696.20" x2="235.10" y2="696.20" stroke="#aaa" stroke-width="1.3"/>
<line x1="36.10" y1="697.35" x2="41.40" y2="697.35" stroke="#555" stroke-width="1"/>
<text x="29.30" y="697.35" font-size="8.4" text-anchor="middle" fill="#111" transform="rotate(-90 29.30 697.35)">1.0</text>
<line x1="36.10" y1="736.07" x2="41.40" y2="736.07" stroke="#555" stroke-width="1"/>
<text x="29.30" y="736.07" font-size="8.4" text-anchor="middle" fill="#111" transform="rotate(-90 29.30 736.07)">0.5</text>
<line x1="36.10" y1="774.80" x2="41.40" y2="774.80" stroke="#555" stroke-width="1"/>
<text x="29.30" y="774.80" font-size="8.4" text-anchor="middle" fill="#111" transform="rotate(-90 29.30 774.80)">0.0</text>
<line x1="36.10" y1="813.52" x2="41.40" y2="813.52" stroke="#555" stroke-width="1"/>
<text x="29.30" y="813.52" font-size="8.4" text-anchor="middle" fill="#111" transform="rotate(-90 29.30 813.52)">-0.5</text>
<line x1="36.10" y1="852.25" x2="41.40" y2="852.25" stroke="#555" stroke-width="1"/>
<text x="29.30" y="852.25" font-size="8.4" text-anchor="middle" fill="#111" transform="rotate(-90 29.30 852.25)">-1.0</text>
<line x1="75.60" y1="858.30" x2="75.60" y2="863.60" stroke="#555" stroke-width="1"/>
<text x="75.60" y="876.90" font-size="8.4" text-anchor="middle" fill="#111">1.0</text>
<line x1="118.20" y1="858.30" x2="118.20" y2="863.60" stroke="#555" stroke-width="1"/>
<text x="118.20" y="876.90" font-size="8.4" text-anchor="middle" fill="#111">1.5</text>
<line x1="160.80" y1="858.30" x2="160.80" y2="863.60" stroke="#555" stroke-width="1"/>
<text x="160.80" y="876.90" font-size="8.4" text-anchor="middle" fill="#111">2.0</text>
<line x1="203.40" y1="858.30" x2="203.40" y2="863.60" stroke="#555" stroke-width="1"/>
<text x="203.40" y="876.90" font-size="8.4" text-anchor="middle" fill="#111">2.5</text>
<text x="50.90" y="909.40" font-size="8.15" fill="#111">Average of Fat Mass by the two methods <tspan font-weight="bold">(kg)</tspan></text>
<text x="8.00" y="778.40" font-size="8.2" text-anchor="middle" fill="#111" transform="rotate(-90 8.00 778.40)" textLength="177" lengthAdjust="spacingAndGlyphs">Difference of FM (kg) (Prediction equation –Pea Pod)</text>
<text x="244.00" y="709.50" font-size="10.5" text-anchor="start" fill="#111" textLength="96.9" lengthAdjust="spacing" stroke="#111" stroke-width="0.18">LoA Upper: -0.478</text>
<text x="244.00" y="787.60" font-size="10.5" text-anchor="start" fill="#111" textLength="178.8" lengthAdjust="spacing" stroke="#111" stroke-width="0.18">Bias: 0.108 (95%CI: 0.046 to 0.169)</text>
<text x="244.00" y="832.50" font-size="10.5" text-anchor="start" fill="#111" textLength="92.7" lengthAdjust="spacing" stroke="#111" stroke-width="0.18">LoA Lower: 0.694</text>
<text x="480.00" y="8.20" font-size="9.45" text-anchor="start" fill="#111" font-weight="bold">b) 1 MONTH</text>
<line x1="506.96" y1="60.50" x2="506.96" y2="221.75" stroke="#d4d4d4" stroke-width="0.8" stroke-dasharray="1,1.1"/>
<line x1="538.62" y1="60.50" x2="538.62" y2="221.75" stroke="#d4d4d4" stroke-width="0.8" stroke-dasharray="1,1.1"/>
<line x1="570.28" y1="60.50" x2="570.28" y2="221.75" stroke="#d4d4d4" stroke-width="0.8" stroke-dasharray="1,1.1"/>
<line x1="601.94" y1="60.50" x2="601.94" y2="221.75" stroke="#d4d4d4" stroke-width="0.8" stroke-dasharray="1,1.1"/>
<line x1="633.60" y1="60.50" x2="633.60" y2="221.75" stroke="#d4d4d4" stroke-width="0.8" stroke-dasharray="1,1.1"/>
<line x1="665.26" y1="60.50" x2="665.26" y2="221.75" stroke="#d4d4d4" stroke-width="0.8" stroke-dasharray="1,1.1"/>
<line x1="479.50" y1="200.40" x2="684.50" y2="200.40" stroke="#d4d4d4" stroke-width="0.8" stroke-dasharray="1,1.1"/>
<line x1="479.50" y1="175.40" x2="684.50" y2="175.40" stroke="#d4d4d4" stroke-width="0.8" stroke-dasharray="1,1.1"/>
<line x1="479.50" y1="150.40" x2="684.50" y2="150.40" stroke="#d4d4d4" stroke-width="0.8" stroke-dasharray="1,1.1"/>
<line x1="479.50" y1="125.40" x2="684.50" y2="125.40" stroke="#d4d4d4" stroke-width="0.8" stroke-dasharray="1,1.1"/>
<line x1="479.50" y1="100.40" x2="684.50" y2="100.40" stroke="#d4d4d4" stroke-width="0.8" stroke-dasharray="1,1.1"/>
<line x1="479.50" y1="75.40" x2="684.50" y2="75.40" stroke="#d4d4d4" stroke-width="0.8" stroke-dasharray="1,1.1"/>
<rect x="479.50" y="60.50" width="103.50" height="34.50" fill="#fff"/>
<rect x="557.40" y="187.60" width="127.10" height="34.15" fill="#fff"/>
<clipPath id="cpb"><rect x="479.50" y="60.50" width="205.00" height="161.25"/></clipPath>
<g clip-path="url(#cpb)">
<polygon points="479.50,187.52 482.92,186.00 486.33,184.48 489.75,182.96 493.17,181.44 496.58,179.92 500.00,178.39 503.42,176.87 506.83,175.34 510.25,173.81 513.67,172.27 517.08,170.73 520.50,169.19 523.92,167.64 527.33,166.09 530.75,164.53 534.17,162.96 537.58,161.39 541.00,159.79 544.42,158.19 547.83,156.57 551.25,154.92 554.67,153.25 558.08,151.55 561.50,149.81 564.92,148.03 568.33,146.22 571.75,144.36 575.17,142.45 578.58,140.52 582.00,138.54 585.42,136.54 588.83,134.52 592.25,132.47 595.67,130.41 599.08,128.34 602.50,126.26 605.92,124.16 609.33,122.06 612.75,119.95 616.17,117.84 619.58,115.72 623.00,113.60 626.42,111.47 629.83,109.34 633.25,107.21 636.67,105.08 640.08,102.94 643.50,100.81 646.92,98.67 650.33,96.53 653.75,94.39 657.17,92.25 660.58,90.11 664.00,87.96 667.42,85.82 670.83,83.67 674.25,81.53 677.67,79.38 681.08,77.24 684.50,75.09 684.50,97.96 681.08,99.47 677.67,100.98 674.25,102.50 670.83,104.01 667.42,105.52 664.00,107.04 660.58,108.55 657.17,110.07 653.75,111.58 650.33,113.10 646.92,114.62 643.50,116.14 640.08,117.66 636.67,119.19 633.25,120.71 629.83,122.24 626.42,123.77 623.00,125.30 619.58,126.84 616.17,128.38 612.75,129.92 609.33,131.47 605.92,133.03 602.50,134.60 599.08,136.17 595.67,137.75 592.25,139.35 588.83,140.96 585.42,142.60 582.00,144.26 578.58,145.94 575.17,147.66 571.75,149.42 568.33,151.22 564.92,153.06 561.50,154.94 558.08,156.86 554.67,158.82 551.25,160.81 547.83,162.82 544.42,164.85 541.00,166.91 537.58,168.97 534.17,171.05 530.75,173.14 527.33,175.24 523.92,177.35 520.50,179.46 517.08,181.58 513.67,183.70 510.25,185.82 506.83,187.95 503.42,190.08 500.00,192.21 496.58,194.34 493.17,196.48 489.75,198.62 486.33,200.75 482.92,202.89 479.50,205.04" fill="#bec4ce"/>
<circle cx="493.60" cy="144.70" r="2.3" fill="#4181b4"/>
<circle cx="496.10" cy="163.80" r="2.3" fill="#4181b4"/>
<circle cx="508.40" cy="167.20" r="2.3" fill="#4181b4"/>
<circle cx="501.40" cy="175.90" r="2.3" fill="#4181b4"/>
<circle cx="505.00" cy="179.00" r="2.3" fill="#4181b4"/>
<circle cx="514.80" cy="178.50" r="2.3" fill="#4181b4"/>
<circle cx="519.90" cy="170.80" r="2.3" fill="#4181b4"/>
<circle cx="516.80" cy="161.00" r="2.3" fill="#4181b4"/>
<circle cx="519.50" cy="163.80" r="2.3" fill="#4181b4"/>
<circle cx="521.40" cy="149.10" r="2.3" fill="#4181b4"/>
<circle cx="524.90" cy="146.70" r="2.3" fill="#4181b4"/>
<circle cx="529.40" cy="149.80" r="2.3" fill="#4181b4"/>
<circle cx="523.50" cy="139.90" r="2.3" fill="#4181b4"/>
<circle cx="525.20" cy="137.80" r="2.3" fill="#4181b4"/>
<circle cx="528.10" cy="159.40" r="2.3" fill="#4181b4"/>
<circle cx="527.30" cy="172.40" r="2.3" fill="#4181b4"/>
<circle cx="530.60" cy="172.40" r="2.3" fill="#4181b4"/>
<circle cx="530.00" cy="176.50" r="2.3" fill="#4181b4"/>
<circle cx="537.10" cy="171.40" r="2.3" fill="#4181b4"/>
<circle cx="541.10" cy="174.20" r="2.3" fill="#4181b4"/>
<circle cx="539.80" cy="182.30" r="2.3" fill="#4181b4"/>
<circle cx="538.60" cy="190.10" r="2.3" fill="#4181b4"/>
<circle cx="523.30" cy="194.90" r="2.3" fill="#4181b4"/>
<circle cx="525.90" cy="194.90" r="2.3" fill="#4181b4"/>
<circle cx="541.20" cy="138.80" r="2.3" fill="#4181b4"/>
<circle cx="533.20" cy="159.90" r="2.3" fill="#4181b4"/>
<circle cx="535.40" cy="159.10" r="2.3" fill="#4181b4"/>
<circle cx="537.90" cy="157.20" r="2.3" fill="#4181b4"/>
<circle cx="537.10" cy="161.30" r="2.3" fill="#4181b4"/>
<circle cx="540.80" cy="154.00" r="2.3" fill="#4181b4"/>
<circle cx="542.20" cy="152.60" r="2.3" fill="#4181b4"/>
<circle cx="543.10" cy="157.70" r="2.3" fill="#4181b4"/>
<circle cx="541.10" cy="167.20" r="2.3" fill="#4181b4"/>
<circle cx="546.90" cy="151.10" r="2.3" fill="#4181b4"/>
<circle cx="549.50" cy="154.70" r="2.3" fill="#4181b4"/>
<circle cx="549.50" cy="153.30" r="2.3" fill="#4181b4"/>
<circle cx="550.70" cy="158.40" r="2.3" fill="#4181b4"/>
<circle cx="548.10" cy="162.50" r="2.3" fill="#4181b4"/>
<circle cx="552.50" cy="161.00" r="2.3" fill="#4181b4"/>
<circle cx="553.90" cy="151.10" r="2.3" fill="#4181b4"/>
<circle cx="552.70" cy="165.70" r="2.3" fill="#4181b4"/>
<circle cx="553.90" cy="163.10" r="2.3" fill="#4181b4"/>
<circle cx="550.70" cy="170.40" r="2.3" fill="#4181b4"/>
<circle cx="552.50" cy="171.50" r="2.3" fill="#4181b4"/>
<circle cx="551.60" cy="175.00" r="2.3" fill="#4181b4"/>
<circle cx="547.20" cy="178.00" r="2.3" fill="#4181b4"/>
<circle cx="559.00" cy="183.80" r="2.3" fill="#4181b4"/>
<circle cx="553.20" cy="129.20" r="2.3" fill="#4181b4"/>
<circle cx="555.40" cy="130.20" r="2.3" fill="#4181b4"/>
<circle cx="562.40" cy="139.10" r="2.3" fill="#4181b4"/>
<circle cx="562.40" cy="143.80" r="2.3" fill="#4181b4"/>
<circle cx="559.80" cy="151.10" r="2.3" fill="#4181b4"/>
<circle cx="561.90" cy="149.60" r="2.3" fill="#4181b4"/>
<circle cx="564.10" cy="157.70" r="2.3" fill="#4181b4"/>
<circle cx="563.40" cy="163.60" r="2.3" fill="#4181b4"/>
<circle cx="566.00" cy="176.20" r="2.3" fill="#4181b4"/>
<circle cx="566.00" cy="135.00" r="2.3" fill="#4181b4"/>
<circle cx="568.80" cy="128.00" r="2.3" fill="#4181b4"/>
<circle cx="568.50" cy="137.70" r="2.3" fill="#4181b4"/>
<circle cx="570.70" cy="138.20" r="2.3" fill="#4181b4"/>
<circle cx="571.40" cy="144.10" r="2.3" fill="#4181b4"/>
<circle cx="570.30" cy="148.90" r="2.3" fill="#4181b4"/>
<circle cx="572.90" cy="153.70" r="2.3" fill="#4181b4"/>
<circle cx="575.80" cy="129.90" r="2.3" fill="#4181b4"/>
<circle cx="574.60" cy="140.60" r="2.3" fill="#4181b4"/>
<circle cx="577.00" cy="150.40" r="2.3" fill="#4181b4"/>
<circle cx="577.30" cy="168.30" r="2.3" fill="#4181b4"/>
<circle cx="577.30" cy="181.00" r="2.3" fill="#4181b4"/>
<circle cx="505.70" cy="201.60" r="2.3" fill="#4181b4"/>
<circle cx="510.80" cy="201.30" r="2.3" fill="#4181b4"/>
<circle cx="505.20" cy="215.80" r="2.3" fill="#4181b4"/>
<circle cx="602.00" cy="89.60" r="2.3" fill="#4181b4"/>
<circle cx="604.90" cy="97.80" r="2.3" fill="#4181b4"/>
<circle cx="584.60" cy="110.50" r="2.3" fill="#4181b4"/>
<circle cx="581.40" cy="120.00" r="2.3" fill="#4181b4"/>
<circle cx="579.80" cy="132.70" r="2.3" fill="#4181b4"/>
<circle cx="583.80" cy="129.30" r="2.3" fill="#4181b4"/>
<circle cx="599.10" cy="113.70" r="2.3" fill="#4181b4"/>
<circle cx="598.10" cy="117.90" r="2.3" fill="#4181b4"/>
<circle cx="593.00" cy="125.40" r="2.3" fill="#4181b4"/>
<circle cx="598.30" cy="125.30" r="2.3" fill="#4181b4"/>
<circle cx="592.30" cy="129.10" r="2.3" fill="#4181b4"/>
<circle cx="599.10" cy="128.20" r="2.3" fill="#4181b4"/>
<circle cx="591.10" cy="133.30" r="2.3" fill="#4181b4"/>
<circle cx="594.90" cy="135.90" r="2.3" fill="#4181b4"/>
<circle cx="587.00" cy="137.80" r="2.3" fill="#4181b4"/>
<circle cx="606.80" cy="128.20" r="2.3" fill="#4181b4"/>
<circle cx="602.60" cy="137.80" r="2.3" fill="#4181b4"/>
<circle cx="598.80" cy="140.20" r="2.3" fill="#4181b4"/>
<circle cx="594.00" cy="142.30" r="2.3" fill="#4181b4"/>
<circle cx="594.90" cy="141.30" r="2.3" fill="#4181b4"/>
<circle cx="600.70" cy="142.60" r="2.3" fill="#4181b4"/>
<circle cx="589.10" cy="144.70" r="2.3" fill="#4181b4"/>
<circle cx="594.00" cy="148.60" r="2.3" fill="#4181b4"/>
<circle cx="607.60" cy="141.30" r="2.3" fill="#4181b4"/>
<circle cx="607.90" cy="144.20" r="2.3" fill="#4181b4"/>
<circle cx="610.70" cy="147.80" r="2.3" fill="#4181b4"/>
<circle cx="602.00" cy="151.50" r="2.3" fill="#4181b4"/>
<circle cx="605.50" cy="150.70" r="2.3" fill="#4181b4"/>
<circle cx="614.80" cy="160.30" r="2.3" fill="#4181b4"/>
<circle cx="620.00" cy="145.20" r="2.3" fill="#4181b4"/>
<circle cx="612.60" cy="134.10" r="2.3" fill="#4181b4"/>
<circle cx="613.10" cy="136.20" r="2.3" fill="#4181b4"/>
<circle cx="621.90" cy="136.50" r="2.3" fill="#4181b4"/>
<circle cx="622.70" cy="134.30" r="2.3" fill="#4181b4"/>
<circle cx="610.70" cy="114.70" r="2.3" fill="#4181b4"/>
<circle cx="614.30" cy="109.90" r="2.3" fill="#4181b4"/>
<circle cx="614.80" cy="118.50" r="2.3" fill="#4181b4"/>
<circle cx="620.00" cy="105.20" r="2.3" fill="#4181b4"/>
<circle cx="622.40" cy="107.60" r="2.3" fill="#4181b4"/>
<circle cx="628.00" cy="105.70" r="2.3" fill="#4181b4"/>
<circle cx="634.40" cy="105.70" r="2.3" fill="#4181b4"/>
<circle cx="633.90" cy="107.30" r="2.3" fill="#4181b4"/>
<circle cx="631.00" cy="126.10" r="2.3" fill="#4181b4"/>
<circle cx="642.10" cy="112.90" r="2.3" fill="#4181b4"/>
<circle cx="645.70" cy="110.20" r="2.3" fill="#4181b4"/>
<circle cx="650.20" cy="119.70" r="2.3" fill="#4181b4"/>
<circle cx="658.20" cy="123.80" r="2.3" fill="#4181b4"/>
<circle cx="659.00" cy="134.90" r="2.3" fill="#4181b4"/>
<circle cx="661.70" cy="111.00" r="2.3" fill="#4181b4"/>
<circle cx="676.70" cy="116.60" r="2.3" fill="#4181b4"/>
<circle cx="575.00" cy="142.00" r="2.3" fill="#4181b4"/>
<circle cx="553.50" cy="153.70" r="2.3" fill="#4181b4"/>
<circle cx="552.00" cy="156.30" r="2.3" fill="#4181b4"/>
<circle cx="554.50" cy="158.30" r="2.3" fill="#4181b4"/>
<line x1="479.50" y1="196.28" x2="684.50" y2="86.52" stroke="#22308f" stroke-width="1.2"/>
<line x1="479.50" y1="222.08" x2="684.50" y2="60.21" stroke="#ee6a3c" stroke-width="1.0" stroke-dasharray="2.5,2.1"/>
</g>
<line x1="479.50" y1="60.50" x2="685.00" y2="60.50" stroke="#555" stroke-width="1"/>
<line x1="479.50" y1="60.50" x2="479.50" y2="221.75" stroke="#555" stroke-width="1"/>
<line x1="684.50" y1="60.50" x2="684.50" y2="221.75" stroke="#555" stroke-width="1"/>
<line x1="479.00" y1="221.85" x2="685.00" y2="221.85" stroke="#7a7a7a" stroke-width="1.3"/>
<line x1="474.20" y1="200.40" x2="479.50" y2="200.40" stroke="#555" stroke-width="1"/>
<text x="465.90" y="200.40" font-size="9.2" text-anchor="middle" fill="#111" transform="rotate(-90 465.90 200.40)">0.2</text>
<line x1="474.20" y1="175.40" x2="479.50" y2="175.40" stroke="#555" stroke-width="1"/>
<text x="465.90" y="175.40" font-size="9.2" text-anchor="middle" fill="#111" transform="rotate(-90 465.90 175.40)">0.4</text>
<line x1="474.20" y1="150.40" x2="479.50" y2="150.40" stroke="#555" stroke-width="1"/>
<text x="465.90" y="150.40" font-size="9.2" text-anchor="middle" fill="#111" transform="rotate(-90 465.90 150.40)">0.6</text>
<line x1="474.20" y1="125.40" x2="479.50" y2="125.40" stroke="#555" stroke-width="1"/>
<text x="465.90" y="125.40" font-size="9.2" text-anchor="middle" fill="#111" transform="rotate(-90 465.90 125.40)">0.8</text>
<line x1="474.20" y1="100.40" x2="479.50" y2="100.40" stroke="#555" stroke-width="1"/>
<text x="465.90" y="100.40" font-size="9.2" text-anchor="middle" fill="#111" transform="rotate(-90 465.90 100.40)">1.0</text>
<line x1="474.20" y1="75.40" x2="479.50" y2="75.40" stroke="#555" stroke-width="1"/>
<text x="465.90" y="75.40" font-size="9.2" text-anchor="middle" fill="#111" transform="rotate(-90 465.90 75.40)">1.2</text>
<line x1="506.96" y1="221.75" x2="506.96" y2="227.05" stroke="#7a7a7a" stroke-width="1.1"/>
<text x="506.96" y="240.30" font-size="9.0" text-anchor="middle" fill="#111">0.2</text>
<line x1="538.62" y1="221.75" x2="538.62" y2="227.05" stroke="#7a7a7a" stroke-width="1.1"/>
<text x="538.62" y="240.30" font-size="9.0" text-anchor="middle" fill="#111">0.4</text>
<line x1="570.28" y1="221.75" x2="570.28" y2="227.05" stroke="#7a7a7a" stroke-width="1.1"/>
<text x="570.28" y="240.30" font-size="9.0" text-anchor="middle" fill="#111">0.6</text>
<line x1="601.94" y1="221.75" x2="601.94" y2="227.05" stroke="#7a7a7a" stroke-width="1.1"/>
<text x="601.94" y="240.30" font-size="9.0" text-anchor="middle" fill="#111">0.8</text>
<line x1="633.60" y1="221.75" x2="633.60" y2="227.05" stroke="#7a7a7a" stroke-width="1.1"/>
<text x="633.60" y="240.30" font-size="9.0" text-anchor="middle" fill="#111">1.0</text>
<line x1="665.26" y1="221.75" x2="665.26" y2="227.05" stroke="#7a7a7a" stroke-width="1.1"/>
<text x="665.26" y="240.30" font-size="9.0" text-anchor="middle" fill="#111">1.2</text>
<text x="535.90" y="272.30" font-size="8.17" text-anchor="start" fill="#111">Measured Fat mass (kg)</text>
<text x="451.00" y="138.90" font-size="8.17" text-anchor="middle" fill="#111" transform="rotate(-90 451.00 138.90)" textLength="85.5" lengthAdjust="spacingAndGlyphs">Estimated Fat mass (kg)</text>
<text x="483.00" y="70.10" font-size="7.1" text-anchor="start" fill="#222">Deming RegressionFit (n=133)</text>
<line x1="487.90" y1="78.10" x2="502.00" y2="78.10" stroke="#22308f" stroke-width="1.3"/>
<text x="508.20" y="80.90" font-size="7.1" text-anchor="start" fill="#222">0.21 + 0.68 * Method1</text>
<line x1="487.90" y1="86.40" x2="500.00" y2="86.40" stroke="#f07a4a" stroke-width="0.9" stroke-dasharray="3,2.4"/>
<text x="508.20" y="88.90" font-size="7.1" text-anchor="start" fill="#222">identity</text>
<text x="559.90" y="199.80" font-size="6.9" text-anchor="start" fill="#000" font-weight="bold" textLength="76.09" lengthAdjust="spacingAndGlyphs">Pearson's r = 0.734, p&lt;0.001</text>
<text x="559.90" y="207.90" font-size="6.9" text-anchor="start" fill="#000" font-weight="bold" textLength="122.25" lengthAdjust="spacingAndGlyphs">Intercept 0.215 95%CI (0.134 - 0.296), p&lt;0.001</text>
<text x="559.90" y="216.00" font-size="6.9" text-anchor="start" fill="#000" font-weight="bold" textLength="113.67" lengthAdjust="spacingAndGlyphs">Slope 0.678 95%CI (0.549 - 0.806), p&lt;0.001</text>
<text x="480.00" y="314.90" font-size="9.45" text-anchor="start" fill="#111" font-weight="bold">d) 3 MONTHS</text>
<line x1="500.40" y1="374.10" x2="500.40" y2="546.40" stroke="#d4d4d4" stroke-width="0.8" stroke-dasharray="1,1.1"/>
<line x1="540.05" y1="374.10" x2="540.05" y2="546.40" stroke="#d4d4d4" stroke-width="0.8" stroke-dasharray="1,1.1"/>
<line x1="579.70" y1="374.10" x2="579.70" y2="546.40" stroke="#d4d4d4" stroke-width="0.8" stroke-dasharray="1,1.1"/>
<line x1="619.35" y1="374.10" x2="619.35" y2="546.40" stroke="#d4d4d4" stroke-width="0.8" stroke-dasharray="1,1.1"/>
<line x1="659.00" y1="374.10" x2="659.00" y2="546.40" stroke="#d4d4d4" stroke-width="0.8" stroke-dasharray="1,1.1"/>
<line x1="479.50" y1="528.20" x2="684.50" y2="528.20" stroke="#d4d4d4" stroke-width="0.8" stroke-dasharray="1,1.1"/>
<line x1="479.50" y1="494.90" x2="684.50" y2="494.90" stroke="#d4d4d4" stroke-width="0.8" stroke-dasharray="1,1.1"/>
<line x1="479.50" y1="461.60" x2="684.50" y2="461.60" stroke="#d4d4d4" stroke-width="0.8" stroke-dasharray="1,1.1"/>
<line x1="479.50" y1="428.30" x2="684.50" y2="428.30" stroke="#d4d4d4" stroke-width="0.8" stroke-dasharray="1,1.1"/>
<line x1="479.50" y1="395.00" x2="684.50" y2="395.00" stroke="#d4d4d4" stroke-width="0.8" stroke-dasharray="1,1.1"/>
<rect x="479.50" y="374.10" width="103.10" height="36.90" fill="#fff"/>
<rect x="556.50" y="514.70" width="128.00" height="31.70" fill="#fff"/>
<clipPath id="cpd"><rect x="479.50" y="374.10" width="205.00" height="172.30"/></clipPath>
<g clip-path="url(#cpd)">
<polygon points="479.50,528.19 482.92,526.32 486.33,524.46 489.75,522.59 493.17,520.72 496.58,518.85 500.00,516.98 503.42,515.11 506.83,513.24 510.25,511.36 513.67,509.48 517.08,507.60 520.50,505.72 523.92,503.83 527.33,501.94 530.75,500.04 534.17,498.13 537.58,496.22 541.00,494.30 544.42,492.37 547.83,490.42 551.25,488.46 554.67,486.47 558.08,484.46 561.50,482.43 564.92,480.36 568.33,478.25 571.75,476.10 575.17,473.90 578.58,471.66 582.00,469.39 585.42,467.07 588.83,464.73 592.25,462.36 595.67,459.97 599.08,457.56 602.50,455.14 605.92,452.70 609.33,450.26 612.75,447.80 616.17,445.34 619.58,442.87 623.00,440.40 626.42,437.93 629.83,435.45 633.25,432.97 636.67,430.48 640.08,427.99 643.50,425.51 646.92,423.01 650.33,420.52 653.75,418.03 657.17,415.53 660.58,413.04 664.00,410.54 667.42,408.04 670.83,405.54 674.25,403.04 677.67,400.54 681.08,398.04 684.50,395.54 684.50,417.72 681.08,419.58 677.67,421.44 674.25,423.30 670.83,425.16 667.42,427.02 664.00,428.89 660.58,430.75 657.17,432.62 653.75,434.48 650.33,436.35 646.92,438.22 643.50,440.09 640.08,441.96 636.67,443.84 633.25,445.72 629.83,447.60 626.42,449.48 623.00,451.36 619.58,453.25 616.17,455.15 612.75,457.05 609.33,458.96 605.92,460.87 602.50,462.80 599.08,464.74 595.67,466.69 592.25,468.66 588.83,470.65 585.42,472.67 582.00,474.72 578.58,476.80 575.17,478.93 571.75,481.10 568.33,483.31 564.92,485.56 561.50,487.85 558.08,490.17 554.67,492.53 551.25,494.90 547.83,497.30 544.42,499.72 541.00,502.15 537.58,504.59 534.17,507.03 530.75,509.49 527.33,511.95 523.92,514.42 520.50,516.90 517.08,519.37 513.67,521.85 510.25,524.34 506.83,526.82 503.42,529.31 500.00,531.80 496.58,534.29 493.17,536.79 489.75,539.28 486.33,541.77 482.92,544.27 479.50,546.77" fill="#bec4ce"/>
<circle cx="498.00" cy="488.70" r="2.3" fill="#4181b4"/>
<circle cx="504.00" cy="501.40" r="2.3" fill="#4181b4"/>
<circle cx="514.20" cy="494.50" r="2.3" fill="#4181b4"/>
<circle cx="518.10" cy="495.50" r="2.3" fill="#4181b4"/>
<circle cx="514.10" cy="503.40" r="2.3" fill="#4181b4"/>
<circle cx="520.00" cy="485.30" r="2.3" fill="#4181b4"/>
<circle cx="525.00" cy="484.30" r="2.3" fill="#4181b4"/>
<circle cx="528.20" cy="488.70" r="2.3" fill="#4181b4"/>
<circle cx="524.70" cy="498.90" r="2.3" fill="#4181b4"/>
<circle cx="526.20" cy="498.90" r="2.3" fill="#4181b4"/>
<circle cx="529.80" cy="501.10" r="2.3" fill="#4181b4"/>
<circle cx="530.80" cy="505.50" r="2.3" fill="#4181b4"/>
<circle cx="521.10" cy="517.60" r="2.3" fill="#4181b4"/>
<circle cx="512.70" cy="524.20" r="2.3" fill="#4181b4"/>
<circle cx="516.70" cy="524.50" r="2.3" fill="#4181b4"/>
<circle cx="506.60" cy="530.00" r="2.3" fill="#4181b4"/>
<circle cx="523.30" cy="529.60" r="2.3" fill="#4181b4"/>
<circle cx="517.70" cy="539.80" r="2.3" fill="#4181b4"/>
<circle cx="535.80" cy="520.10" r="2.3" fill="#4181b4"/>
<circle cx="544.40" cy="520.10" r="2.3" fill="#4181b4"/>
<circle cx="538.10" cy="469.00" r="2.3" fill="#4181b4"/>
<circle cx="537.90" cy="474.50" r="2.3" fill="#4181b4"/>
<circle cx="538.30" cy="489.70" r="2.3" fill="#4181b4"/>
<circle cx="536.10" cy="499.30" r="2.3" fill="#4181b4"/>
<circle cx="537.10" cy="505.20" r="2.3" fill="#4181b4"/>
<circle cx="540.00" cy="501.10" r="2.3" fill="#4181b4"/>
<circle cx="542.20" cy="503.30" r="2.3" fill="#4181b4"/>
<circle cx="543.70" cy="500.40" r="2.3" fill="#4181b4"/>
<circle cx="545.90" cy="490.60" r="2.3" fill="#4181b4"/>
<circle cx="546.90" cy="476.00" r="2.3" fill="#4181b4"/>
<circle cx="548.10" cy="485.00" r="2.3" fill="#4181b4"/>
<circle cx="551.00" cy="485.50" r="2.3" fill="#4181b4"/>
<circle cx="551.30" cy="480.70" r="2.3" fill="#4181b4"/>
<circle cx="546.60" cy="496.40" r="2.3" fill="#4181b4"/>
<circle cx="551.00" cy="497.40" r="2.3" fill="#4181b4"/>
<circle cx="549.10" cy="502.80" r="2.3" fill="#4181b4"/>
<circle cx="555.40" cy="498.50" r="2.3" fill="#4181b4"/>
<circle cx="557.60" cy="498.90" r="2.3" fill="#4181b4"/>
<circle cx="553.20" cy="507.20" r="2.3" fill="#4181b4"/>
<circle cx="555.40" cy="511.30" r="2.3" fill="#4181b4"/>
<circle cx="558.00" cy="508.70" r="2.3" fill="#4181b4"/>
<circle cx="559.30" cy="505.20" r="2.3" fill="#4181b4"/>
<circle cx="555.70" cy="470.10" r="2.3" fill="#4181b4"/>
<circle cx="559.20" cy="461.40" r="2.3" fill="#4181b4"/>
<circle cx="563.80" cy="468.20" r="2.3" fill="#4181b4"/>
<circle cx="556.50" cy="484.30" r="2.3" fill="#4181b4"/>
<circle cx="560.50" cy="483.90" r="2.3" fill="#4181b4"/>
<circle cx="560.90" cy="487.70" r="2.3" fill="#4181b4"/>
<circle cx="563.00" cy="498.20" r="2.3" fill="#4181b4"/>
<circle cx="566.80" cy="493.50" r="2.3" fill="#4181b4"/>
<circle cx="566.60" cy="505.20" r="2.3" fill="#4181b4"/>
<circle cx="572.90" cy="498.20" r="2.3" fill="#4181b4"/>
<circle cx="570.00" cy="472.60" r="2.3" fill="#4181b4"/>
<circle cx="572.60" cy="464.30" r="2.3" fill="#4181b4"/>
<circle cx="576.50" cy="461.40" r="2.3" fill="#4181b4"/>
<circle cx="570.70" cy="483.30" r="2.3" fill="#4181b4"/>
<circle cx="572.60" cy="487.70" r="2.3" fill="#4181b4"/>
<circle cx="576.50" cy="477.70" r="2.3" fill="#4181b4"/>
<circle cx="577.00" cy="486.50" r="2.3" fill="#4181b4"/>
<circle cx="628.40" cy="417.90" r="2.3" fill="#4181b4"/>
<circle cx="646.50" cy="419.70" r="2.3" fill="#4181b4"/>
<circle cx="672.80" cy="420.60" r="2.3" fill="#4181b4"/>
<circle cx="676.80" cy="421.00" r="2.3" fill="#4181b4"/>
<circle cx="618.80" cy="429.70" r="2.3" fill="#4181b4"/>
<circle cx="604.70" cy="438.70" r="2.3" fill="#4181b4"/>
<circle cx="574.20" cy="444.20" r="2.3" fill="#4181b4"/>
<circle cx="609.60" cy="446.50" r="2.3" fill="#4181b4"/>
<circle cx="609.60" cy="448.40" r="2.3" fill="#4181b4"/>
<circle cx="631.70" cy="444.30" r="2.3" fill="#4181b4"/>
<circle cx="658.20" cy="440.50" r="2.3" fill="#4181b4"/>
<circle cx="652.50" cy="448.70" r="2.3" fill="#4181b4"/>
<circle cx="636.10" cy="454.40" r="2.3" fill="#4181b4"/>
<circle cx="599.80" cy="454.40" r="2.3" fill="#4181b4"/>
<circle cx="602.30" cy="456.60" r="2.3" fill="#4181b4"/>
<circle cx="606.90" cy="459.90" r="2.3" fill="#4181b4"/>
<circle cx="589.60" cy="459.90" r="2.3" fill="#4181b4"/>
<circle cx="579.20" cy="458.40" r="2.3" fill="#4181b4"/>
<circle cx="582.80" cy="458.80" r="2.3" fill="#4181b4"/>
<circle cx="582.80" cy="467.20" r="2.3" fill="#4181b4"/>
<circle cx="581.00" cy="471.50" r="2.3" fill="#4181b4"/>
<circle cx="585.50" cy="473.00" r="2.3" fill="#4181b4"/>
<circle cx="587.40" cy="474.50" r="2.3" fill="#4181b4"/>
<circle cx="593.80" cy="470.30" r="2.3" fill="#4181b4"/>
<circle cx="596.50" cy="471.20" r="2.3" fill="#4181b4"/>
<circle cx="599.20" cy="469.00" r="2.3" fill="#4181b4"/>
<circle cx="601.60" cy="469.00" r="2.3" fill="#4181b4"/>
<circle cx="602.50" cy="473.00" r="2.3" fill="#4181b4"/>
<circle cx="589.20" cy="476.30" r="2.3" fill="#4181b4"/>
<circle cx="591.00" cy="477.60" r="2.3" fill="#4181b4"/>
<circle cx="582.80" cy="477.60" r="2.3" fill="#4181b4"/>
<circle cx="582.80" cy="480.30" r="2.3" fill="#4181b4"/>
<circle cx="597.80" cy="478.10" r="2.3" fill="#4181b4"/>
<circle cx="609.30" cy="476.60" r="2.3" fill="#4181b4"/>
<circle cx="582.80" cy="476.00" r="2.3" fill="#4181b4"/>
<line x1="479.50" y1="537.48" x2="684.50" y2="406.63" stroke="#22308f" stroke-width="1.2"/>
<line x1="479.50" y1="545.75" x2="684.50" y2="373.58" stroke="#ee6a3c" stroke-width="1.0" stroke-dasharray="2.5,2.1"/>
</g>
<line x1="479.50" y1="374.10" x2="685.00" y2="374.10" stroke="#555" stroke-width="1"/>
<line x1="479.50" y1="374.10" x2="479.50" y2="546.40" stroke="#555" stroke-width="1"/>
<line x1="684.50" y1="374.10" x2="684.50" y2="546.40" stroke="#555" stroke-width="1"/>
<line x1="479.00" y1="546.50" x2="685.00" y2="546.50" stroke="#7a7a7a" stroke-width="1.3"/>
<line x1="474.20" y1="528.20" x2="479.50" y2="528.20" stroke="#555" stroke-width="1"/>
<text x="465.90" y="528.20" font-size="9.2" text-anchor="middle" fill="#111" transform="rotate(-90 465.90 528.20)">0.5</text>
<line x1="474.20" y1="494.90" x2="479.50" y2="494.90" stroke="#555" stroke-width="1"/>
<text x="465.90" y="494.90" font-size="9.2" text-anchor="middle" fill="#111" transform="rotate(-90 465.90 494.90)">1.0</text>
<line x1="474.20" y1="461.60" x2="479.50" y2="461.60" stroke="#555" stroke-width="1"/>
<text x="465.90" y="461.60" font-size="9.2" text-anchor="middle" fill="#111" transform="rotate(-90 465.90 461.60)">1.5</text>
<line x1="474.20" y1="428.30" x2="479.50" y2="428.30" stroke="#555" stroke-width="1"/>
<text x="465.90" y="428.30" font-size="9.2" text-anchor="middle" fill="#111" transform="rotate(-90 465.90 428.30)">2.0</text>
<line x1="474.20" y1="395.00" x2="479.50" y2="395.00" stroke="#555" stroke-width="1"/>
<text x="465.90" y="395.00" font-size="9.2" text-anchor="middle" fill="#111" transform="rotate(-90 465.90 395.00)">2.5</text>
<line x1="500.40" y1="546.40" x2="500.40" y2="551.70" stroke="#7a7a7a" stroke-width="1.1"/>
<text x="500.40" y="565.70" font-size="9.0" text-anchor="middle" fill="#111">0.5</text>
<line x1="540.05" y1="546.40" x2="540.05" y2="551.70" stroke="#7a7a7a" stroke-width="1.1"/>
<text x="540.05" y="565.70" font-size="9.0" text-anchor="middle" fill="#111">1.0</text>
<line x1="579.70" y1="546.40" x2="579.70" y2="551.70" stroke="#7a7a7a" stroke-width="1.1"/>
<text x="579.70" y="565.70" font-size="9.0" text-anchor="middle" fill="#111">1.5</text>
<line x1="619.35" y1="546.40" x2="619.35" y2="551.70" stroke="#7a7a7a" stroke-width="1.1"/>
<text x="619.35" y="565.70" font-size="9.0" text-anchor="middle" fill="#111">2.0</text>
<line x1="659.00" y1="546.40" x2="659.00" y2="551.70" stroke="#7a7a7a" stroke-width="1.1"/>
<text x="659.00" y="565.70" font-size="9.0" text-anchor="middle" fill="#111">2.5</text>
<text x="535.90" y="596.30" font-size="8.17" text-anchor="start" fill="#111">Measured Fat mass (kg)</text>
<text x="451.00" y="460.80" font-size="8.17" text-anchor="middle" fill="#111" transform="rotate(-90 451.00 460.80)" textLength="85.5" lengthAdjust="spacingAndGlyphs">Estimated Fat mass (kg)</text>
<text x="483.10" y="384.60" font-size="7.1" text-anchor="start" fill="#222">Deming RegressionFit (n=101)</text>
<line x1="487.90" y1="392.90" x2="501.80" y2="392.90" stroke="#22308f" stroke-width="1.3"/>
<text x="507.90" y="396.00" font-size="7.1" text-anchor="start" fill="#222">0.18 + 0.76 * Method1</text>
<line x1="487.90" y1="401.80" x2="499.80" y2="401.80" stroke="#f07a4a" stroke-width="0.9" stroke-dasharray="3,2.4"/>
<text x="507.90" y="404.60" font-size="7.1" text-anchor="start" fill="#222">identity</text>
<text x="558.90" y="524.40" font-size="6.9" text-anchor="start" fill="#000" font-weight="bold" textLength="76.09" lengthAdjust="spacingAndGlyphs">Pearson's r = 0.831, p&lt;0.001</text>
<text x="558.90" y="532.50" font-size="6.9" text-anchor="start" fill="#000" font-weight="bold" textLength="122.25" lengthAdjust="spacingAndGlyphs">Intercept 0.181 95%CI (0.018 - 0.344), p=0.029</text>
<text x="558.90" y="540.60" font-size="6.9" text-anchor="start" fill="#000" font-weight="bold" textLength="113.67" lengthAdjust="spacingAndGlyphs">Slope 0.760 95%CI (0.648 - 0.872), p&lt;0.001</text>
<text x="480.00" y="637.00" font-size="9.45" text-anchor="start" fill="#111" font-weight="bold">f) 6 MONTHS</text>
<line x1="519.30" y1="690.30" x2="519.30" y2="863.00" stroke="#d4d4d4" stroke-width="0.8" stroke-dasharray="1,1.1"/>
<line x1="561.03" y1="690.30" x2="561.03" y2="863.00" stroke="#d4d4d4" stroke-width="0.8" stroke-dasharray="1,1.1"/>
<line x1="602.77" y1="690.30" x2="602.77" y2="863.00" stroke="#d4d4d4" stroke-width="0.8" stroke-dasharray="1,1.1"/>
<line x1="644.50" y1="690.30" x2="644.50" y2="863.00" stroke="#d4d4d4" stroke-width="0.8" stroke-dasharray="1,1.1"/>
<line x1="479.40" y1="829.20" x2="684.50" y2="829.20" stroke="#d4d4d4" stroke-width="0.8" stroke-dasharray="1,1.1"/>
<line x1="479.40" y1="794.16" x2="684.50" y2="794.16" stroke="#d4d4d4" stroke-width="0.8" stroke-dasharray="1,1.1"/>
<line x1="479.40" y1="759.13" x2="684.50" y2="759.13" stroke="#d4d4d4" stroke-width="0.8" stroke-dasharray="1,1.1"/>
<line x1="479.40" y1="724.10" x2="684.50" y2="724.10" stroke="#d4d4d4" stroke-width="0.8" stroke-dasharray="1,1.1"/>
<rect x="479.40" y="690.30" width="102.00" height="37.60" fill="#fff"/>
<rect x="555.40" y="824.30" width="129.10" height="38.70" fill="#fff"/>
<clipPath id="cpf"><rect x="479.40" y="690.30" width="205.10" height="172.70"/></clipPath>
<g clip-path="url(#cpf)">
<polygon points="479.40,836.06 482.82,834.28 486.24,832.50 489.65,830.72 493.07,828.94 496.49,827.15 499.91,825.37 503.33,823.58 506.75,821.80 510.16,820.01 513.58,818.23 517.00,816.44 520.42,814.65 523.84,812.85 527.26,811.06 530.67,809.26 534.09,807.46 537.51,805.66 540.93,803.86 544.35,802.05 547.77,800.23 551.18,798.41 554.60,796.59 558.02,794.75 561.44,792.91 564.86,791.05 568.28,789.17 571.69,787.28 575.11,785.36 578.53,783.41 581.95,781.43 585.37,779.40 588.79,777.32 592.21,775.20 595.62,773.02 599.04,770.80 602.46,768.53 605.88,766.22 609.30,763.88 612.71,761.52 616.13,759.13 619.55,756.73 622.97,754.31 626.39,751.89 629.81,749.45 633.23,747.01 636.64,744.56 640.06,742.11 643.48,739.65 646.90,737.19 650.32,734.72 653.74,732.26 657.15,729.79 660.57,727.31 663.99,724.84 667.41,722.37 670.83,719.89 674.25,717.41 677.66,714.93 681.08,712.45 684.50,709.97 684.50,730.30 681.08,732.08 677.66,733.87 674.25,735.65 670.83,737.44 667.41,739.23 663.99,741.01 660.57,742.81 657.15,744.60 653.74,746.39 650.32,748.19 646.90,749.99 643.48,751.79 640.06,753.60 636.64,755.41 633.23,757.22 629.81,759.04 626.39,760.87 622.97,762.71 619.55,764.56 616.13,766.42 612.71,768.30 609.30,770.20 605.88,772.13 602.46,774.08 599.04,776.08 595.62,778.12 592.21,780.21 588.79,782.34 585.37,784.53 581.95,786.77 578.53,789.05 575.11,791.36 571.69,793.71 568.28,796.08 564.86,798.47 561.44,800.87 558.02,803.29 554.60,805.72 551.18,808.16 547.77,810.60 544.35,813.05 540.93,815.51 537.51,817.97 534.09,820.43 530.67,822.89 527.26,825.36 523.84,827.83 520.42,830.30 517.00,832.78 513.58,835.25 510.16,837.73 506.75,840.21 503.33,842.69 499.91,845.17 496.49,847.65 493.07,850.13 489.65,852.61 486.24,855.09 482.82,857.58 479.40,860.06" fill="#bec4ce"/>
<circle cx="504.30" cy="783.10" r="2.3" fill="#4181b4"/>
<circle cx="510.10" cy="805.70" r="2.3" fill="#4181b4"/>
<circle cx="521.50" cy="794.70" r="2.3" fill="#4181b4"/>
<circle cx="533.00" cy="788.00" r="2.3" fill="#4181b4"/>
<circle cx="540.50" cy="786.60" r="2.3" fill="#4181b4"/>
<circle cx="544.90" cy="776.10" r="2.3" fill="#4181b4"/>
<circle cx="545.60" cy="790.20" r="2.3" fill="#4181b4"/>
<circle cx="541.80" cy="793.30" r="2.3" fill="#4181b4"/>
<circle cx="544.40" cy="795.30" r="2.3" fill="#4181b4"/>
<circle cx="532.30" cy="798.00" r="2.3" fill="#4181b4"/>
<circle cx="526.90" cy="801.30" r="2.3" fill="#4181b4"/>
<circle cx="531.70" cy="803.40" r="2.3" fill="#4181b4"/>
<circle cx="537.10" cy="805.50" r="2.3" fill="#4181b4"/>
<circle cx="534.90" cy="811.50" r="2.3" fill="#4181b4"/>
<circle cx="550.30" cy="799.40" r="2.3" fill="#4181b4"/>
<circle cx="549.10" cy="810.80" r="2.3" fill="#4181b4"/>
<circle cx="552.50" cy="808.60" r="2.3" fill="#4181b4"/>
<circle cx="554.40" cy="817.40" r="2.3" fill="#4181b4"/>
<circle cx="554.20" cy="783.60" r="2.3" fill="#4181b4"/>
<circle cx="554.90" cy="789.90" r="2.3" fill="#4181b4"/>
<circle cx="556.40" cy="790.70" r="2.3" fill="#4181b4"/>
<circle cx="560.80" cy="783.60" r="2.3" fill="#4181b4"/>
<circle cx="561.20" cy="785.80" r="2.3" fill="#4181b4"/>
<circle cx="562.20" cy="778.00" r="2.3" fill="#4181b4"/>
<circle cx="560.90" cy="791.10" r="2.3" fill="#4181b4"/>
<circle cx="567.10" cy="787.70" r="2.3" fill="#4181b4"/>
<circle cx="567.30" cy="790.70" r="2.3" fill="#4181b4"/>
<circle cx="569.20" cy="776.80" r="2.3" fill="#4181b4"/>
<circle cx="573.20" cy="785.80" r="2.3" fill="#4181b4"/>
<circle cx="574.60" cy="791.40" r="2.3" fill="#4181b4"/>
<circle cx="570.00" cy="796.50" r="2.3" fill="#4181b4"/>
<circle cx="573.20" cy="795.00" r="2.3" fill="#4181b4"/>
<circle cx="576.50" cy="778.50" r="2.3" fill="#4181b4"/>
<circle cx="568.80" cy="802.30" r="2.3" fill="#4181b4"/>
<circle cx="565.60" cy="812.60" r="2.3" fill="#4181b4"/>
<circle cx="569.20" cy="816.20" r="2.3" fill="#4181b4"/>
<circle cx="569.70" cy="818.40" r="2.3" fill="#4181b4"/>
<circle cx="572.90" cy="812.10" r="2.3" fill="#4181b4"/>
<circle cx="576.50" cy="812.80" r="2.3" fill="#4181b4"/>
<circle cx="561.90" cy="820.30" r="2.3" fill="#4181b4"/>
<circle cx="506.20" cy="829.30" r="2.3" fill="#4181b4"/>
<circle cx="508.40" cy="835.20" r="2.3" fill="#4181b4"/>
<circle cx="515.50" cy="834.50" r="2.3" fill="#4181b4"/>
<circle cx="540.50" cy="833.70" r="2.3" fill="#4181b4"/>
<circle cx="552.50" cy="847.60" r="2.3" fill="#4181b4"/>
<circle cx="516.80" cy="856.40" r="2.3" fill="#4181b4"/>
<circle cx="665.20" cy="716.50" r="2.3" fill="#4181b4"/>
<circle cx="656.10" cy="719.00" r="2.3" fill="#4181b4"/>
<circle cx="670.40" cy="733.10" r="2.3" fill="#4181b4"/>
<circle cx="676.80" cy="751.50" r="2.3" fill="#4181b4"/>
<circle cx="662.80" cy="745.00" r="2.3" fill="#4181b4"/>
<circle cx="650.60" cy="747.30" r="2.3" fill="#4181b4"/>
<circle cx="640.20" cy="741.10" r="2.3" fill="#4181b4"/>
<circle cx="644.20" cy="740.80" r="2.3" fill="#4181b4"/>
<circle cx="646.40" cy="737.80" r="2.3" fill="#4181b4"/>
<circle cx="642.70" cy="752.20" r="2.3" fill="#4181b4"/>
<circle cx="623.90" cy="733.60" r="2.3" fill="#4181b4"/>
<circle cx="618.70" cy="755.10" r="2.3" fill="#4181b4"/>
<circle cx="634.10" cy="760.80" r="2.3" fill="#4181b4"/>
<circle cx="638.50" cy="759.80" r="2.3" fill="#4181b4"/>
<circle cx="641.30" cy="760.10" r="2.3" fill="#4181b4"/>
<circle cx="641.30" cy="763.80" r="2.3" fill="#4181b4"/>
<circle cx="624.90" cy="763.30" r="2.3" fill="#4181b4"/>
<circle cx="614.00" cy="763.00" r="2.3" fill="#4181b4"/>
<circle cx="614.50" cy="766.80" r="2.3" fill="#4181b4"/>
<circle cx="608.30" cy="767.10" r="2.3" fill="#4181b4"/>
<circle cx="611.10" cy="766.30" r="2.3" fill="#4181b4"/>
<circle cx="610.60" cy="776.00" r="2.3" fill="#4181b4"/>
<circle cx="607.80" cy="778.10" r="2.3" fill="#4181b4"/>
<circle cx="603.20" cy="777.20" r="2.3" fill="#4181b4"/>
<circle cx="598.90" cy="781.90" r="2.3" fill="#4181b4"/>
<circle cx="594.80" cy="773.90" r="2.3" fill="#4181b4"/>
<circle cx="596.90" cy="775.90" r="2.3" fill="#4181b4"/>
<circle cx="594.50" cy="780.60" r="2.3" fill="#4181b4"/>
<circle cx="589.30" cy="781.90" r="2.3" fill="#4181b4"/>
<circle cx="588.80" cy="754.10" r="2.3" fill="#4181b4"/>
<circle cx="588.50" cy="757.90" r="2.3" fill="#4181b4"/>
<circle cx="590.10" cy="758.80" r="2.3" fill="#4181b4"/>
<circle cx="591.80" cy="758.40" r="2.3" fill="#4181b4"/>
<circle cx="591.00" cy="756.20" r="2.3" fill="#4181b4"/>
<circle cx="595.70" cy="764.80" r="2.3" fill="#4181b4"/>
<circle cx="592.20" cy="769.30" r="2.3" fill="#4181b4"/>
<circle cx="584.30" cy="772.20" r="2.3" fill="#4181b4"/>
<circle cx="586.80" cy="772.50" r="2.3" fill="#4181b4"/>
<circle cx="589.30" cy="773.50" r="2.3" fill="#4181b4"/>
<circle cx="586.80" cy="791.50" r="2.3" fill="#4181b4"/>
<circle cx="593.20" cy="792.00" r="2.3" fill="#4181b4"/>
<circle cx="616.30" cy="790.60" r="2.3" fill="#4181b4"/>
<circle cx="625.70" cy="788.10" r="2.3" fill="#4181b4"/>
<circle cx="579.70" cy="803.20" r="2.3" fill="#4181b4"/>
<circle cx="591.80" cy="806.10" r="2.3" fill="#4181b4"/>
<circle cx="590.10" cy="810.00" r="2.3" fill="#4181b4"/>
<line x1="479.40" y1="848.06" x2="684.50" y2="720.14" stroke="#22308f" stroke-width="1.2"/>
<line x1="479.40" y1="862.69" x2="684.50" y2="690.52" stroke="#ee6a3c" stroke-width="1.0" stroke-dasharray="2.5,2.1"/>
</g>
<line x1="479.40" y1="690.30" x2="685.00" y2="690.30" stroke="#555" stroke-width="1"/>
<line x1="479.40" y1="690.30" x2="479.40" y2="863.00" stroke="#555" stroke-width="1"/>
<line x1="684.50" y1="690.30" x2="684.50" y2="863.00" stroke="#555" stroke-width="1"/>
<line x1="478.90" y1="863.10" x2="685.00" y2="863.10" stroke="#7a7a7a" stroke-width="1.3"/>
<line x1="474.10" y1="829.20" x2="479.40" y2="829.20" stroke="#555" stroke-width="1"/>
<text x="465.90" y="829.20" font-size="9.2" text-anchor="middle" fill="#111" transform="rotate(-90 465.90 829.20)">1.0</text>
<line x1="474.10" y1="794.16" x2="479.40" y2="794.16" stroke="#555" stroke-width="1"/>
<text x="465.90" y="794.16" font-size="9.2" text-anchor="middle" fill="#111" transform="rotate(-90 465.90 794.16)">1.5</text>
<line x1="474.10" y1="759.13" x2="479.40" y2="759.13" stroke="#555" stroke-width="1"/>
<text x="465.90" y="759.13" font-size="9.2" text-anchor="middle" fill="#111" transform="rotate(-90 465.90 759.13)">2.0</text>
<line x1="474.10" y1="724.10" x2="479.40" y2="724.10" stroke="#555" stroke-width="1"/>
<text x="465.90" y="724.10" font-size="9.2" text-anchor="middle" fill="#111" transform="rotate(-90 465.90 724.10)">2.5</text>
<line x1="519.30" y1="863.00" x2="519.30" y2="868.30" stroke="#7a7a7a" stroke-width="1.1"/>
<text x="519.30" y="882.60" font-size="9.0" text-anchor="middle" fill="#111">1.0</text>
<line x1="561.03" y1="863.00" x2="561.03" y2="868.30" stroke="#7a7a7a" stroke-width="1.1"/>
<text x="561.03" y="882.60" font-size="9.0" text-anchor="middle" fill="#111">1.5</text>
<line x1="602.77" y1="863.00" x2="602.77" y2="868.30" stroke="#7a7a7a" stroke-width="1.1"/>
<text x="602.77" y="882.60" font-size="9.0" text-anchor="middle" fill="#111">2.0</text>
<line x1="644.50" y1="863.00" x2="644.50" y2="868.30" stroke="#7a7a7a" stroke-width="1.1"/>
<text x="644.50" y="882.60" font-size="9.0" text-anchor="middle" fill="#111">2.5</text>
<text x="535.90" y="909.40" font-size="8.17" text-anchor="start" fill="#111">Measured Fat mass (kg)</text>
<text x="451.00" y="781.40" font-size="8.17" text-anchor="middle" fill="#111" transform="rotate(-90 451.00 781.40)" textLength="85.5" lengthAdjust="spacingAndGlyphs">Estimated Fat mass (kg)</text>
<text x="485.00" y="701.30" font-size="7.1" text-anchor="start" fill="#222">Deming RegressionFit (n=93)</text>
<line x1="487.60" y1="710.00" x2="501.10" y2="710.00" stroke="#22308f" stroke-width="1.3"/>
<text x="507.40" y="713.00" font-size="7.1" text-anchor="start" fill="#222">0.34 + 0.74 * Method1</text>
<line x1="487.60" y1="717.90" x2="499.10" y2="717.90" stroke="#f07a4a" stroke-width="0.9" stroke-dasharray="3,2.4"/>
<text x="507.40" y="720.90" font-size="7.1" text-anchor="start" fill="#222">identity</text>
<text x="556.90" y="835.80" font-size="6.9" text-anchor="start" fill="#000" font-weight="bold" textLength="76.09" lengthAdjust="spacingAndGlyphs">Pearson's r = 0.791, p&lt;0.001</text>
<text x="556.90" y="843.90" font-size="6.9" text-anchor="start" fill="#000" font-weight="bold" textLength="122.25" lengthAdjust="spacingAndGlyphs">Intercept 0.343 95%CI (0.091 - 0.595), p=0.008</text>
<text x="556.90" y="852.00" font-size="6.9" text-anchor="start" fill="#000" font-weight="bold" textLength="113.67" lengthAdjust="spacingAndGlyphs">Slope 0.743 95%CI (0.612 - 0.875), p&lt;0.001</text>
<text x="285.80" y="922.60" font-size="8.18" text-anchor="start" fill="#111">LoA: Limits of Agreement</text>
</svg></body></html>
